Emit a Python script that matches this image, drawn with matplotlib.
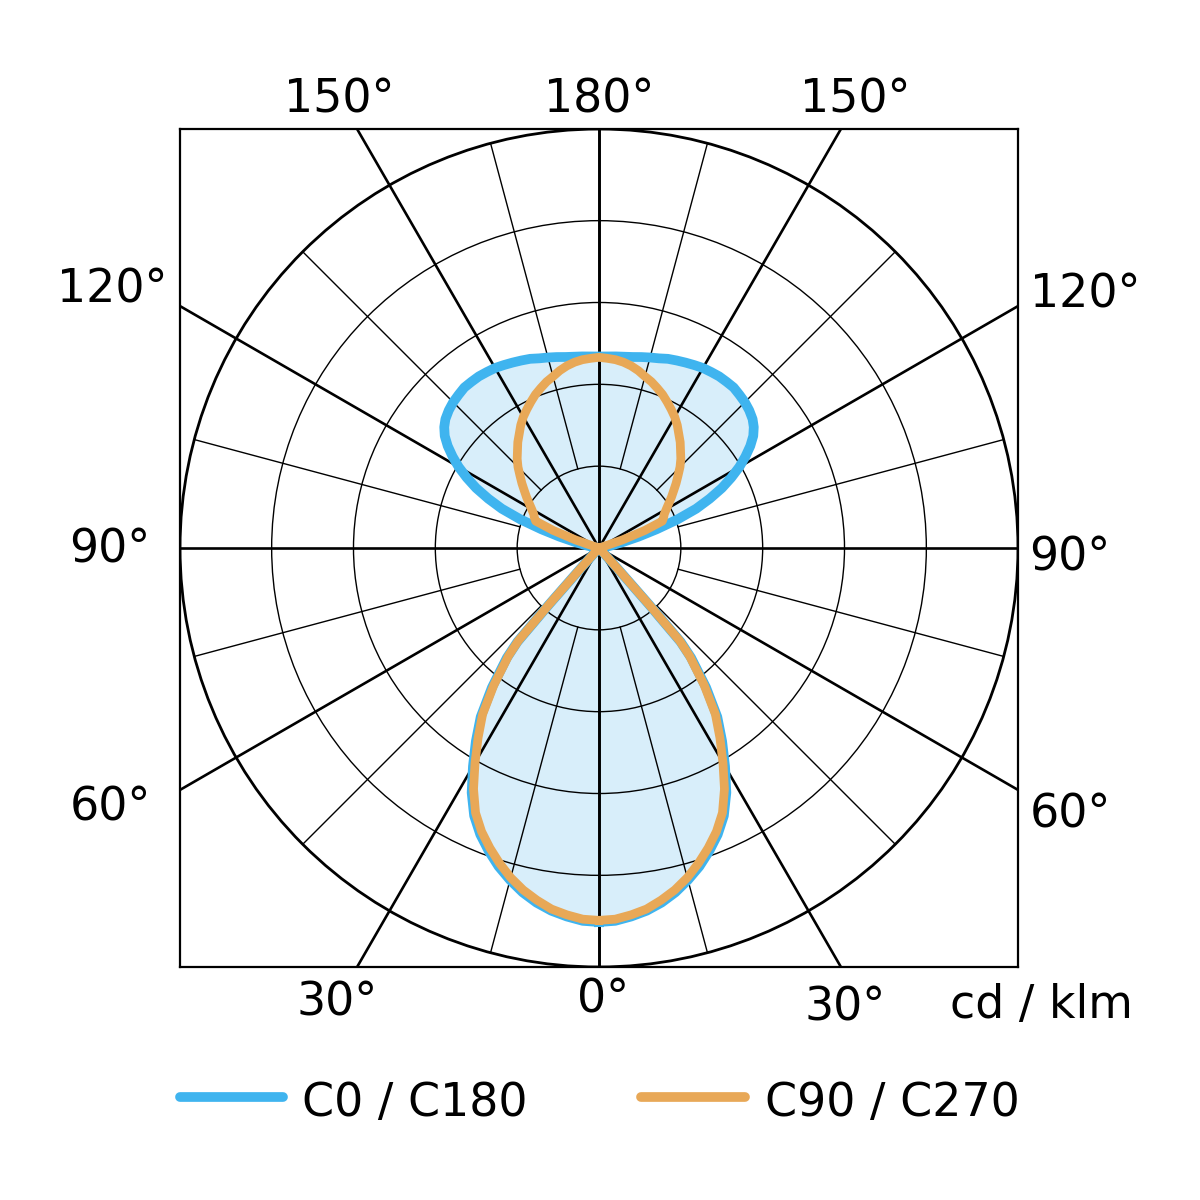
import matplotlib.pyplot as plt
import numpy as np
from matplotlib.lines import Line2D
from matplotlib.patches import Circle

# luminous intensity (cd/klm) versus gamma angle, 0 = straight down, 180 = up
gamma_c0 = [0, 2.5, 5, 7.5, 10, 12.5, 15, 17.5, 20, 22.5, 25, 27.5, 30, 32.5, 35, 37.5,
            40, 41, 41.5, 42, 43, 45, 60, 90,
            96, 100, 102, 104, 106, 108, 110, 112, 114, 116, 118, 120, 122, 124, 126, 128,
            130, 132.5, 135, 137.5, 140, 142.5, 145, 147.5, 150, 152.5, 155, 157.5, 160,
            162.5, 165, 167.5, 170, 175, 180]
i_c0 = [457, 456, 452, 447, 440, 431, 420, 408, 394, 379, 361, 337, 308, 280, 252, 215,
        175, 152, 92, 32, 6, 2, 1, 0,
        3, 10, 18, 30, 50, 74, 102, 128, 148, 167, 183, 198, 211, 223, 233, 240,
        245, 249, 252, 254, 256, 256, 256, 255, 254, 252, 250, 248, 246,
        243, 241, 239, 237, 235, 234]

gamma_c90 = [0, 2.5, 5, 7.5, 10, 12.5, 15, 17.5, 20, 22.5, 25, 27.5, 30, 32.5, 35, 37.5,
             40, 41, 41.5, 42, 43, 45, 60, 90,
             105, 107, 109, 111, 113, 115, 117.5, 120, 122.5, 125, 127.5, 130, 132.5, 135,
             137.5, 140, 142.5, 145, 147.5, 150, 152.5, 155, 157.5, 160, 162.5, 165, 167.5,
             170, 172.5, 175, 177.5, 180]
i_c90 = [455, 454, 450, 445, 437, 428, 417, 404, 390, 375, 357, 332, 303, 275, 248, 211,
         172, 150, 90, 30, 5, 2, 1, 0,
         1, 2, 30, 60, 84, 87, 90, 95, 101, 108, 115, 123, 131, 140,
         148, 155, 163, 170, 178, 185, 191, 197, 203, 208, 213, 217, 222,
         226, 229, 231, 232, 233]

rings = [100, 200, 300, 400]
r_outer = 512

side_labels = ['0°', '30°', '60°', '90°', '120°', '150°', '180°']

BLUE = '#3fb4ef'
ORANGE = '#e8a857'
FILL = '#d8eefa'


def closed_curve(gamma, inten):
    g = np.radians(np.array(gamma, dtype=float))
    r = np.array(inten, dtype=float)
    xr = r * np.sin(g)
    yr = -r * np.cos(g)
    # mirror for the opposite half plane
    x = np.concatenate([xr, -xr[::-1]])
    y = np.concatenate([yr, yr[::-1]])
    return x, y


fig = plt.figure(figsize=(12, 12), dpi=100)
ax = fig.add_axes([180 / 1200, 1 - 967 / 1200, 838 / 1200, 838 / 1200])
ax.set_xlim(-r_outer, r_outer)
ax.set_ylim(-r_outer, r_outer)
ax.set_xticks([])
ax.set_yticks([])
for sp in ax.spines.values():
    sp.set_linewidth(1.6)

xb, yb = closed_curve(gamma_c0, i_c0)
xo, yo = closed_curve(gamma_c90, i_c90)

ax.fill(xb, yb, color=FILL, lw=0, zorder=1)

# grid
for rr in rings:
    ax.add_patch(Circle((0, 0), rr, fill=False, lw=1.0, color='black', zorder=2))
ax.add_patch(Circle((0, 0), r_outer, fill=False, lw=2.0, color='black', zorder=2))

for a in range(0, 181, 15):
    t = np.radians(a)
    for s in (1, -1):
        if a % 30 == 0:
            ax.plot([0, s * 2 * r_outer * np.sin(t)], [0, -2 * r_outer * np.cos(t)],
                    color='black', lw=1.9, zorder=2)
        else:
            ax.plot([s * rings[0] * np.sin(t), s * r_outer * np.sin(t)],
                    [-rings[0] * np.cos(t), -r_outer * np.cos(t)],
                    color='black', lw=1.0, zorder=2)

ax.plot(xb, yb, color=BLUE, lw=7, solid_joinstyle='round', zorder=3)
ax.plot(xo, yo, color=ORANGE, lw=6.3, solid_joinstyle='round', zorder=4)

fs = 33


def ftext(x, y, s, **kw):
    fig.text(x / 1200, 1 - y / 1200, s, fontsize=fs, ha='center', va='center', **kw)


ftext(599, 100, side_labels[6])
ftext(339, 100, side_labels[5])
ftext(855, 100, side_labels[5])
ftext(112, 290, side_labels[4])
ftext(1085, 295, side_labels[4])
ftext(110, 550, side_labels[3])
ftext(1070, 558, side_labels[3])
ftext(110, 808, side_labels[2])
ftext(1070, 815, side_labels[2])
ftext(337, 1003, side_labels[1])
ftext(845, 1008, side_labels[1])
ftext(603, 1000, side_labels[0])
ftext(1041, 1006, 'cd / klm')

# legend
fig.add_artist(Line2D([180 / 1200, 283 / 1200], [1 - 1097 / 1200] * 2, color=BLUE, lw=7,
                      solid_capstyle='round'))
fig.add_artist(Line2D([641 / 1200, 745 / 1200], [1 - 1097 / 1200] * 2, color=ORANGE, lw=7,
                      solid_capstyle='round'))
fig.text(302 / 1200, 1 - 1103 / 1200, 'C0 / C180', fontsize=fs, ha='left', va='center')
fig.text(765 / 1200, 1 - 1103 / 1200, 'C90 / C270', fontsize=fs, ha='left', va='center')

fig.savefig('out.png', dpi=100)
